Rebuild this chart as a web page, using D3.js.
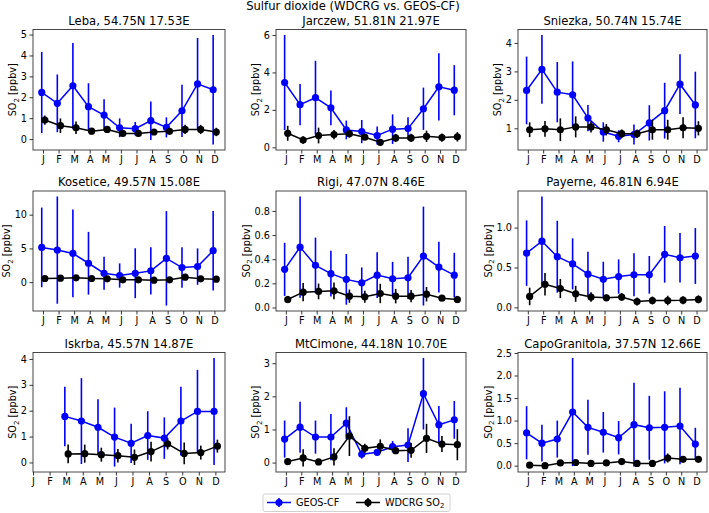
<!DOCTYPE html>
<html><head><meta charset="utf-8">
<script src="https://cdn.jsdelivr.net/npm/d3@7"></script>
<style>body{margin:0;background:#fff}text{font-family:"DejaVu Sans",sans-serif;fill:#000}</style>
</head><body><svg id="c" width="709" height="513"></svg>
<script>
// ---------------- data ----------------
const months = ["J","F","M","A","M","J","J","A","S","O","N","D"];
const stationNames = ["Leba, 54.75N 17.53E","Jarczew, 51.81N 21.97E","Sniezka, 50.74N 15.74E",
  "Kosetice, 49.57N 15.08E","Rigi, 47.07N 8.46E","Payerne, 46.81N 6.94E",
  "Iskrba, 45.57N 14.87E","MtCimone, 44.18N 10.70E","CapoGranitola, 37.57N 12.66E"];
const geosMean = [
  [2.23,1.71,2.55,1.55,1.15,0.54,0.50,0.88,0.56,1.35,2.64,2.36],
  [3.46,2.28,2.65,2.11,0.93,0.84,0.63,0.97,1.00,2.06,3.23,3.05],
  [2.33,3.07,2.27,2.18,1.36,0.87,0.72,0.78,1.19,1.62,2.55,1.82],
  [5.15,4.75,4.26,2.80,1.32,0.98,1.32,1.67,3.53,2.16,2.30,4.66],
  [0.316,0.50,0.349,0.28,0.233,0.205,0.268,0.238,0.246,0.426,0.335,0.268],
  [0.68,0.83,0.635,0.545,0.416,0.352,0.386,0.408,0.408,0.665,0.622,0.644],
  [null,null,1.78,1.60,1.36,0.98,0.74,1.04,0.94,1.60,1.97,1.97],
  [0.71,1.07,0.77,0.77,1.19,0.25,0.31,0.48,0.53,2.08,1.14,1.29],
  [0.73,0.50,0.59,1.19,0.85,0.74,0.62,0.91,0.84,0.85,0.88,0.48]
];
const geosStd = [
  [1.94,1.38,2.05,1.12,0.75,0.45,0.32,0.92,0.48,1.25,2.20,2.62],
  [2.54,1.10,1.97,0.93,0.50,0.62,0.48,0.79,0.60,1.13,1.80,1.34],
  [1.19,1.21,1.06,1.17,0.46,0.34,0.21,0.35,0.62,0.98,1.05,1.17],
  [5.90,7.95,6.50,4.65,2.45,1.80,3.70,3.50,7.00,3.00,2.70,5.90],
  [0.22,0.42,0.23,0.19,0.21,0.127,0.19,0.14,0.175,0.41,0.21,0.185],
  [0.41,0.56,0.45,0.32,0.28,0.22,0.215,0.27,0.236,0.355,0.31,0.35],
  [null,null,1.15,1.66,1.08,1.14,0.76,0.94,0.80,1.33,1.61,2.07],
  [0.56,0.77,0.50,0.70,0.48,0.13,0.08,0.17,0.51,1.08,0.57,0.57],
  [0.59,0.41,0.41,1.20,0.61,0.45,0.37,0.93,0.71,0.80,0.85,0.36]
];
const obsMean = [
  [0.91,0.64,0.54,0.38,0.46,0.27,0.27,0.34,0.37,0.46,0.46,0.34],
  [0.75,0.39,0.63,0.68,0.72,0.54,0.27,0.50,0.50,0.59,0.52,0.56],
  [0.95,0.98,0.95,1.05,1.05,0.95,0.81,0.81,0.95,0.95,1.02,1.00],
  [0.54,0.59,0.64,0.54,0.49,0.34,0.34,0.29,0.34,0.74,0.49,0.44],
  [0.066,0.127,0.133,0.138,0.094,0.089,0.116,0.094,0.094,0.11,0.077,0.066],
  [0.137,0.29,0.236,0.17,0.13,0.12,0.13,0.073,0.086,0.086,0.09,0.10],
  [null,null,0.33,0.34,0.30,0.26,0.20,0.42,0.72,0.35,0.38,0.63],
  [0.03,0.14,0.02,0.17,0.80,0.43,0.49,0.36,0.37,0.73,0.56,0.54],
  [0.01,0.00,0.06,0.07,0.05,0.06,0.09,0.05,0.05,0.17,0.14,0.14]
];
const obsStd = [
  [0.22,0.35,0.30,0.15,0.10,0.10,0.10,0.12,0.12,0.22,0.22,0.20],
  [0.40,0.20,0.42,0.25,0.20,0.12,0.10,0.22,0.22,0.30,0.22,0.25],
  [0.26,0.28,0.40,0.37,0.20,0.20,0.15,0.15,0.35,0.35,0.37,0.25],
  [0.25,0.25,0.25,0.25,0.25,0.20,0.20,0.20,0.20,0.25,0.20,0.20],
  [0.03,0.075,0.065,0.07,0.055,0.05,0.08,0.06,0.05,0.06,0.02,0.03],
  [0.11,0.14,0.12,0.10,0.06,0.04,0.05,0.05,0.05,0.06,0.05,0.05],
  [null,null,0.36,0.35,0.27,0.26,0.30,0.38,0.22,0.42,0.27,0.25],
  [0.02,0.26,0.02,0.26,0.60,0.14,0.21,0.06,0.22,0.44,0.24,0.47],
  [0.02,0.02,0.03,0.05,0.03,0.05,0.06,0.03,0.03,0.10,0.05,0.05]
];
const yTicks = [
  [0,1,2,3,4,5],[0,2,4,6],[1,2,3,4],
  [0,5,10],[0,0.2,0.4,0.6,0.8],[0,0.5,1.0],
  [0,1,2,3,4],[0,1,2,3],[0,0.5,1.0,1.5,2.0,2.5]
];
const yTickDecimals = [0,0,0,0,1,1,0,0,1];
const seriesNames = ["GEOS-CF","WDCRG SO"];

// ---------------- layout ----------------
const svg = d3.select("#c");
const colL = [33,276,518], colR = [225,466,707];
const rowT = [29.5,191,352.5], rowB = [150,311,472];
const offB = -0.08, offK = 0.12;
const BLUE = "#0000ff", BLACK = "#000000";
const tickFont = 9.7;

svg.append("text").attr("x",353).attr("y",10).attr("text-anchor","middle")
  .style("font-size","11.6px").text("Sulfur dioxide (WDCRG vs. GEOS-CF)");

stationNames.forEach((name,i)=>{
  const r = Math.floor(i/3), c = i%3;
  const L = colL[c], R = colR[c], T = rowT[r], B = rowB[r];
  const g = svg.append("g");
  const gm = geosMean[i], gs = geosStd[i], om = obsMean[i], os = obsStd[i];

  const xs = [], ys = [];
  months.forEach((_,m)=>{
    if (gm[m]!=null){ xs.push(m+offB); ys.push(gm[m]-gs[m], gm[m]+gs[m]); }
    if (om[m]!=null){ xs.push(m+offK); ys.push(om[m]-os[m], om[m]+os[m]); }
  });
  let x0 = d3.min(xs), x1 = d3.max(xs); const xm = (x1-x0)*0.05;
  x0 = Math.min(x0-xm, 0); x1 = Math.max(x1+xm, 11);
  let y0 = d3.min(ys), y1 = d3.max(ys); const ym = (y1-y0)*0.05;
  y0 -= ym; y1 += ym;
  const x = d3.scaleLinear().domain([x0,x1]).range([L,R]);
  const y = d3.scaleLinear().domain([y0,y1]).range([B,T]);

  // axes
  const xa = g.append("g").attr("transform",`translate(0,${B})`)
    .call(d3.axisBottom(x).tickValues(d3.range(12)).tickFormat(m=>months[m]).tickSize(3.5).tickPadding(2.5));
  const ya = g.append("g").attr("transform",`translate(${L},0)`)
    .call(d3.axisLeft(y).tickValues(yTicks[i].filter(v=>v>=y0&&v<=y1))
      .tickFormat(v=>v.toFixed(yTickDecimals[i])).tickSize(3.5).tickPadding(2.5));
  [xa,ya].forEach(a=>{
    a.select(".domain").remove();
    a.selectAll(".tick line").attr("stroke","#000").attr("stroke-width",0.8);
    a.selectAll("text").style("font-size",tickFont+"px").style("font-family","DejaVu Sans");
  });

  // y label
  let maxW = 0;
  ya.selectAll("text").each(function(){ maxW = Math.max(maxW, this.getComputedTextLength()); });
  const lx = L - 3.5 - 2.5 - maxW - 8;
  const lab = g.append("text").attr("transform",`translate(${lx},${(T+B)/2}) rotate(-90)`)
    .attr("text-anchor","middle").attr("dy","0.35em").style("font-size","9.7px");
  lab.append("tspan").text("SO");
  lab.append("tspan").text("2").style("font-size","7px").attr("dy","2.5");
  lab.append("tspan").text(" [ppbv]").attr("dy","-2.5");

  // title
  g.append("text").attr("x",(L+R)/2).attr("y",T-5).attr("text-anchor","middle")
    .style("font-size","11.6px").text(name);

  // series
  const drawSeries = (mean,std,off,color)=>{
    const pts = months.map((_,m)=>({m, v:mean[m], s:std[m]})).filter(d=>d.v!=null);
    g.append("g").selectAll("line").data(pts).join("line")
      .attr("x1",d=>x(d.m+off)).attr("x2",d=>x(d.m+off))
      .attr("y1",d=>y(d.v-d.s)).attr("y2",d=>y(d.v+d.s))
      .attr("stroke",color).attr("stroke-width",1.6);
    g.append("path").datum(pts)
      .attr("d",d3.line().x(d=>x(d.m+off)).y(d=>y(d.v)))
      .attr("fill","none").attr("stroke",color).attr("stroke-width",1.5);
    g.append("g").selectAll("circle").data(pts).join("circle")
      .attr("cx",d=>x(d.m+off)).attr("cy",d=>y(d.v)).attr("r",3.6).attr("fill",color);
  };
  drawSeries(gm,gs,offB,BLUE);
  drawSeries(om,os,offK,BLACK);

  // frame
  g.append("rect").attr("x",L).attr("y",T).attr("width",R-L).attr("height",B-T)
    .attr("fill","none").attr("stroke","#333").attr("stroke-width",0.9);
});

// legend
const lg = svg.append("g");
lg.append("rect").attr("x",263).attr("y",494).attr("width",187).attr("height",17.5)
  .attr("rx",2).attr("fill","#fff").attr("stroke","#ccc").attr("stroke-width",0.9);
const legendItems = [{x:267, color:BLUE, name:seriesNames[0], sub:false},
                     {x:356, color:BLACK, name:seriesNames[1], sub:true}];
legendItems.forEach(it=>{
  const cy = 502.5;
  lg.append("line").attr("x1",it.x).attr("x2",it.x+24).attr("y1",cy).attr("y2",cy)
    .attr("stroke",it.color).attr("stroke-width",1.5);
  lg.append("line").attr("x1",it.x+12).attr("x2",it.x+12).attr("y1",cy-4.5).attr("y2",cy+4.5)
    .attr("stroke",it.color).attr("stroke-width",1.6);
  lg.append("circle").attr("cx",it.x+12).attr("cy",cy).attr("r",3.6).attr("fill",it.color);
  const t = lg.append("text").attr("x",it.x+29).attr("y",cy).attr("dy","0.35em").style("font-size","9.7px");
  t.append("tspan").text(it.name);
  if (it.sub) t.append("tspan").text("2").style("font-size","7px").attr("dy","2.5");
});
</script></body></html>
